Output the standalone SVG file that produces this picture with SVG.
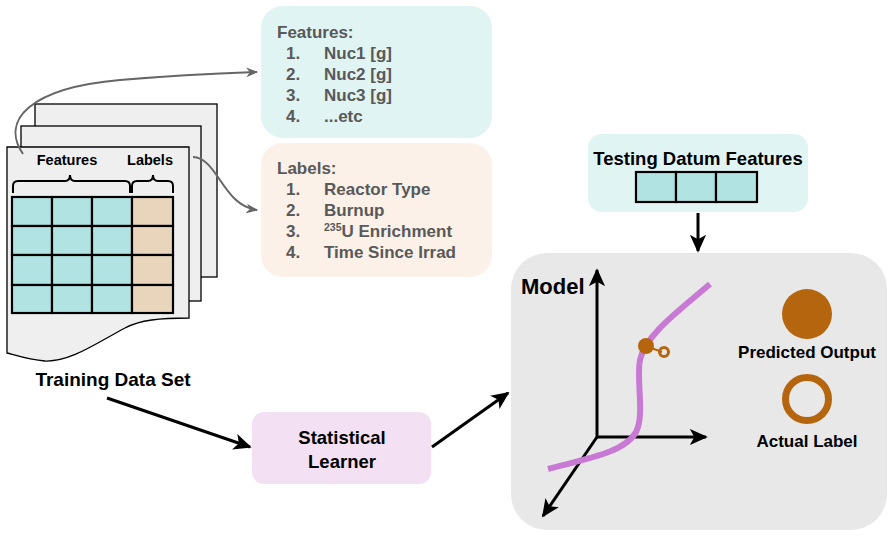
<svg xmlns="http://www.w3.org/2000/svg" width="893" height="537" viewBox="0 0 893 537">
<style>
text{font-family:"Liberation Sans",Arial,sans-serif;font-weight:bold}
.page{fill:#efefef;stroke:#000;stroke-width:1.3}
.ft{fill:#b2e3e3;stroke:#000;stroke-width:2.2}
.lb{fill:#e9d5bc;stroke:#000;stroke-width:2.2}
.lst{fill:#595959;font-size:17px}
.blk{fill:#000}
.conn{fill:none;stroke:#000;stroke-width:3}
.gconn{fill:none;stroke:#666;stroke-width:2}
.brace{fill:none;stroke:#000;stroke-width:2}
</style>
<defs>
<marker id="ah" viewBox="0 0 10 10" refX="9" refY="5" markerWidth="6" markerHeight="6" orient="auto" markerUnits="strokeWidth"><path d="M0,0.5 L10,5 L0,9.5 L2.5,5 z" fill="#000"/></marker>
<marker id="gah" viewBox="0 0 10 10" refX="9" refY="5" markerWidth="6" markerHeight="6" orient="auto" markerUnits="strokeWidth"><path d="M0,1 L10,5 L0,9 L3,5 z" fill="#666"/></marker>
</defs>
<g id="training-data">
<rect class="page" x="35" y="104" width="182" height="173"/>
<rect class="page" x="21" y="126" width="180" height="175"/>
<path class="page" d="M7 147 H189 V318 C160 318 140 320 125 328 C95 344 70 362 45 361 C30 360 18 356 7 353 Z"/>
<text x="67" y="165" font-size="14.5" text-anchor="middle" class="blk">Features</text>
<text x="150" y="165" font-size="14.5" text-anchor="middle" class="blk">Labels</text>
<path class="brace" d="M13 193 V186 Q13 181 18 181 H65 Q70 181 70 175 Q70 181 75 181 H125 Q130 181 130 186 V193"/>
<path class="brace" d="M132 193 V186 Q132 181 137 181 H148 Q153 181 153 175 Q153 181 158 181 H168 Q173 181 173 186 V193"/>
<rect class="ft" x="12" y="197" width="40" height="29"/><rect class="ft" x="52" y="197" width="40" height="29"/><rect class="ft" x="92" y="197" width="40" height="29"/><rect class="lb" x="132" y="197" width="41" height="29"/>
<rect class="ft" x="12" y="226" width="40" height="29"/><rect class="ft" x="52" y="226" width="40" height="29"/><rect class="ft" x="92" y="226" width="40" height="29"/><rect class="lb" x="132" y="226" width="41" height="29"/>
<rect class="ft" x="12" y="255" width="40" height="30"/><rect class="ft" x="52" y="255" width="40" height="30"/><rect class="ft" x="92" y="255" width="40" height="30"/><rect class="lb" x="132" y="255" width="41" height="30"/>
<rect class="ft" x="12" y="285" width="40" height="28"/><rect class="ft" x="52" y="285" width="40" height="28"/><rect class="ft" x="92" y="285" width="40" height="28"/><rect class="lb" x="132" y="285" width="41" height="28"/>
<text x="113" y="386" font-size="19" text-anchor="middle" class="blk">Training Data Set</text>
</g>
<g id="features-box">
<rect x="261" y="6" width="231" height="132" rx="22" fill="#e0f4f3"/>
<text class="lst" x="277" y="38">Features:</text>
<text class="lst" x="286" y="59">1.</text><text class="lst" x="324" y="59">Nuc1 [g]</text>
<text class="lst" x="286" y="80">2.</text><text class="lst" x="324" y="80">Nuc2 [g]</text>
<text class="lst" x="286" y="101">3.</text><text class="lst" x="324" y="101">Nuc3 [g]</text>
<text class="lst" x="286" y="122">4.</text><text class="lst" x="324" y="122">...etc</text>
</g>
<g id="labels-box">
<rect x="261" y="143" width="231" height="134" rx="22" fill="#fbf1e8"/>
<text class="lst" x="277" y="174">Labels:</text>
<text class="lst" x="286" y="195">1.</text><text class="lst" x="324" y="195">Reactor Type</text>
<text class="lst" x="286" y="216">2.</text><text class="lst" x="324" y="216">Burnup</text>
<text class="lst" x="286" y="237">3.</text><text class="lst" x="324" y="237"><tspan font-size="10.5" dy="-6">235</tspan><tspan dy="6">U Enrichment</tspan></text>
<text class="lst" x="286" y="258">4.</text><text class="lst" x="324" y="258">Time Since Irrad</text>
</g>
<g id="testing-datum">
<rect x="588" y="134" width="220" height="78" rx="14" fill="#e0f4f3"/>
<text x="698" y="165" font-size="18.5" text-anchor="middle" class="blk">Testing Datum Features</text>
<rect class="ft" x="636" y="172" width="40" height="30"/><rect class="ft" x="676" y="172" width="40" height="30"/><rect class="ft" x="716" y="172" width="41" height="30"/>
</g>
<g id="model">
<rect x="511" y="253" width="376" height="277" rx="36" fill="#e8e8e8"/>
<text x="521" y="294" font-size="22" class="blk">Model</text>
<path class="conn" d="M597 437 V270" marker-end="url(#ah)"/>
<path class="conn" d="M597 437 H706" marker-end="url(#ah)"/>
<path class="conn" d="M597 437 L543 516" marker-end="url(#ah)"/>
<path d="M548 469 C590 458 625 452 636 432 C645 415 636 380 640 360 C645 335 680 310 710 284" fill="none" stroke="#c879d4" stroke-width="6"/>
<line x1="646" y1="346" x2="662" y2="352" stroke="#b5650d" stroke-width="2"/>
<circle cx="646" cy="346" r="8" fill="#b5650d"/>
<circle cx="664" cy="352" r="4.5" fill="none" stroke="#b5650d" stroke-width="3"/>
<circle cx="807" cy="314" r="25" fill="#b5650d"/>
<text x="807" y="358" font-size="17" text-anchor="middle" class="blk">Predicted Output</text>
<circle cx="807" cy="399" r="21.5" fill="none" stroke="#b5650d" stroke-width="7"/>
<text x="807" y="447" font-size="17" text-anchor="middle" class="blk">Actual Label</text>
</g>
<g id="statistical-learner">
<rect x="252" y="412" width="179" height="72" rx="12" fill="#f3e0f3"/>
<text x="342" y="444" font-size="18.5" text-anchor="middle" class="blk">Statistical</text>
<text x="342" y="468" font-size="18.5" text-anchor="middle" class="blk">Learner</text>
</g>
<g id="connectors">
<path class="gconn" d="M23 154 C0 120 30 88 120 80 C180 75 230 73 257 72" marker-end="url(#gah)"/>
<path class="gconn" d="M193 157 C218 158 222 205 257 210" marker-end="url(#gah)"/>
<path class="conn" d="M698 213 V251" marker-end="url(#ah)"/>
<path class="conn" d="M107 398 L250 447" marker-end="url(#ah)"/>
<path class="conn" d="M432 447 L508 393" marker-end="url(#ah)"/>
</g>
</svg>
